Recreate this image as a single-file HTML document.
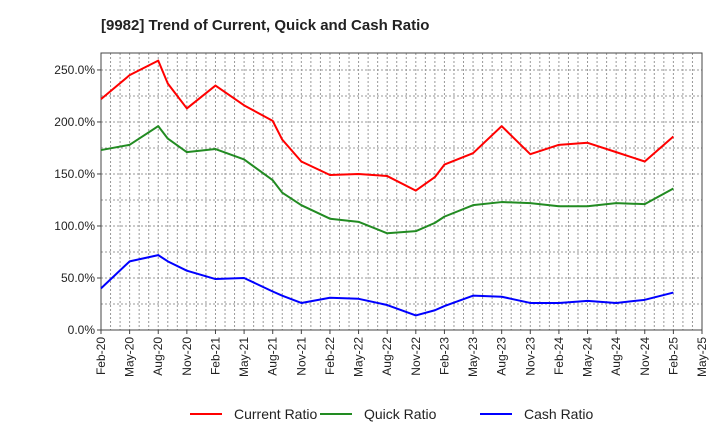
<!DOCTYPE html>
<html><head><meta charset="utf-8"><style>
body{margin:0;background:#fff;font-family:"Liberation Sans",sans-serif;}
svg text{font-family:"Liberation Sans",sans-serif;}
</style></head><body>
<svg id="chart" width="720" height="440" xmlns="http://www.w3.org/2000/svg">
<text x="101" y="30" font-size="15" font-weight="bold" fill="#222">[9982]  Trend of Current, Quick and Cash Ratio</text>
<g id="grid"></g><g id="axes"></g><g id="series"></g><g id="legend"></g>
</svg>
<script>
const months = [0,3,6,7,9,12,15,18,19,21,24,27,30,33,35,36,39,42,45,48,51,54,57,60];
const currentRatio = [222,245,259,237,213,235,216,201,183,162,149,150,148,134,147,159,170,196,169,178,180,171,162,186];
const quickRatio = [173,178,196,184,171,174,164,144,132,120,107,104,93,95,103,109,120,123,122,119,119,122,121,136];
const cashRatio = [40,66,72,66,57,49,50,37,33,26,31,30,24,14,19,23,33,32,26,26,28,26,29,36];
const xTickLabels = ["Feb-20","May-20","Aug-20","Nov-20","Feb-21","May-21","Aug-21","Nov-21","Feb-22","May-22","Aug-22","Nov-22","Feb-23","May-23","Aug-23","Nov-23","Feb-24","May-24","Aug-24","Nov-24","Feb-25","May-25"];
const yTicks = [0,50,100,150,200,250];
const L=101,R=702,T=53,B=330,NM=63,YMAX=266.3;
const xs=m=>L+(R-L)*m/NM, ys=v=>B-(B-T)*v/YMAX;
const NS="http://www.w3.org/2000/svg";
function mk(t,a,p){const e=document.createElementNS(NS,t);for(const k in a)e.setAttribute(k,a[k]);p.appendChild(e);return e;}
const grid=document.getElementById('grid'),axes=document.getElementById('axes'),ser=document.getElementById('series'),leg=document.getElementById('legend');
for(let m=0;m<=NM;m++){const l=mk('line',{x1:xs(m),x2:xs(m),y1:T,y2:B,stroke:'#999','stroke-dasharray':'2,2','stroke-width':1},grid);

}
for(let v=25;v<YMAX;v+=25){const l=mk('line',{x1:L,x2:R,y1:ys(v),y2:ys(v),stroke:'#999','stroke-dasharray':'2,2','stroke-width':1},grid);

}
const fr=mk('rect',{x:L,y:T,width:R-L,height:B-T,fill:'none',stroke:'#444','stroke-width':1},axes);


yTicks.forEach(v=>{const t=mk('text',{x:L-6,y:ys(v)+4,'font-size':12,'text-anchor':'end',fill:'#222'},axes);t.textContent=v.toFixed(1)+'%';


mk('line',{x1:L-4,x2:L,y1:ys(v),y2:ys(v),stroke:'#444'},axes);});
xTickLabels.forEach((s,i)=>{const x=xs(i*3);mk('line',{x1:x,x2:x,y1:B,y2:B+4,stroke:'#444'},axes);
const t=mk('text',{x:0,y:0,'font-size':12,'text-anchor':'end',fill:'#222',transform:`translate(${x+4},${B+7}) rotate(-90)`},axes);t.textContent=s;

});
const defs=[["current-ratio-line",currentRatio,"#ff0000","Current Ratio",190],["quick-ratio-line",quickRatio,"#228b22","Quick Ratio",320],["cash-ratio-line",cashRatio,"#0000ff","Cash Ratio",480]];
defs.forEach(([n,d,c,lab,lx])=>{const p=mk('polyline',{points:d.map((v,i)=>xs(months[i])+','+ys(v)).join(' '),fill:'none',stroke:c,'stroke-width':2,'stroke-linejoin':'round'},ser);


const g=mk('g',{},leg);


mk('line',{x1:lx,x2:lx+32,y1:414,y2:414,stroke:c,'stroke-width':2},g);
const t=mk('text',{x:lx+44,y:419,'font-size':14,fill:'#222'},g);t.textContent=lab;});
</script>
</body></html>
